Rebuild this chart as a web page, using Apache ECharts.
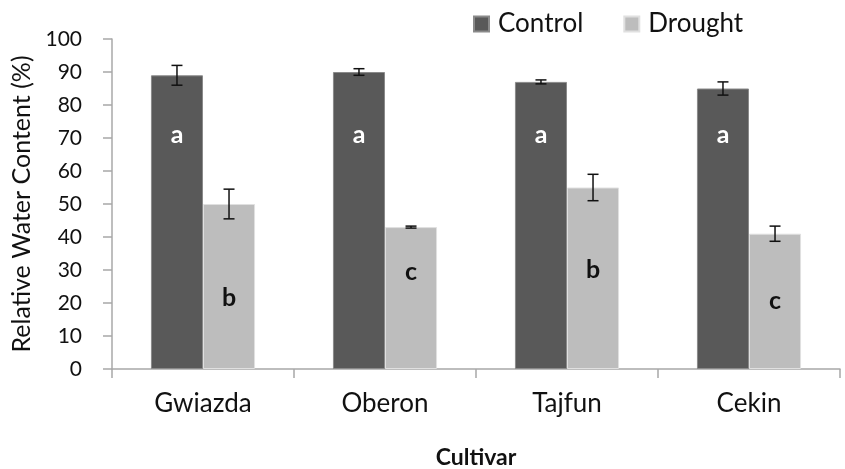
<!DOCTYPE html>
<html><head><meta charset="utf-8">
<script src="https://cdn.jsdelivr.net/npm/echarts@6/dist/echarts.min.js"></script>
<style>html,body{margin:0;padding:0;background:#fff}#c{width:845px;height:469px}</style>
</head><body><div id="c"></div>
<script>
const categories = ['Gwiazda', 'Oberon', 'Tajfun', 'Cekin'];
const control = [89, 90, 87, 85];
const controlErr = [3, 1, 0.6, 2];
const drought = [50, 43, 55, 41];
const droughtErr = [4.5, 0.3, 4, 2.3];
const controlLetters = ['a', 'a', 'a', 'a'];
const droughtLetters = ['b', 'c', 'b', 'c'];
const controlLetterY = [71, 71, 71, 71];
const droughtLetterY = [21.5, 29.5, 30, 20.5];
const yTicks = [0, 10, 20, 30, 40, 50, 60, 70, 80, 90, 100];

const FONT = 'Lato, "Open Sans", sans-serif';
const BAR_FRAC = 0.286;

function errSeries(name, vals, errs, side) {
  return {
    type: 'custom', name: name + 'Err', silent: true, z: 10,
    data: vals.map((v, i) => [i, v, errs[i]]),
    renderItem: function (params, api) {
      const i = api.value(0), v = api.value(1), e = api.value(2);
      const band = api.size([1, 0])[0];
      const cx = api.coord([i, v])[0] + side * band * BAR_FRAC / 2;
      const top = api.coord([i, v + e])[1];
      const bot = api.coord([i, v - e])[1];
      const cap = 5.5;
      const st = { stroke: '#111', lineWidth: 1.5 };
      return { type: 'group', children: [
        { type: 'line', shape: { x1: cx, y1: top, x2: cx, y2: bot }, style: st },
        { type: 'line', shape: { x1: cx - cap, y1: top, x2: cx + cap, y2: top }, style: st },
        { type: 'line', shape: { x1: cx - cap, y1: bot, x2: cx + cap, y2: bot }, style: st }
      ]};
    }
  };
}
function letterSeries(letters, ys, side, color) {
  return {
    type: 'custom', silent: true, z: 11,
    data: ys.map((y, i) => [i, y]),
    renderItem: function (params, api) {
      const i = api.value(0), y = api.value(1);
      const band = api.size([1, 0])[0];
      const p = api.coord([i, y]);
      return { type: 'text', style: {
        x: p[0] + side * band * BAR_FRAC / 2, y: p[1],
        text: letters[i], fill: color, font: 'bold 25px ' + FONT,
        textAlign: 'center', textVerticalAlign: 'middle'
      }};
    }
  };
}

const chart = echarts.init(document.getElementById('c'));
chart.setOption({
  animation: false,
  backgroundColor: '#fff',
  grid: { left: 112, top: 39, right: 5, bottom: 100, containLabel: false, outerBoundsMode: 'none' },
  legend: {
    data: ['Control', 'Drought'], top: 6, left: 468, itemWidth: 15, itemHeight: 15,
    itemGap: 40, icon: 'rect',
    textStyle: { fontFamily: FONT, fontSize: 26, color: '#111', padding: [0, 0, 0, 4] }
  },
  xAxis: {
    type: 'category', data: categories,
    name: 'Cultivar', nameLocation: 'middle', nameGap: 77,
    nameTextStyle: { fontFamily: FONT, fontSize: 23, fontWeight: 'bold', color: '#111' },
    axisLine: { lineStyle: { color: '#a8a8a8', width: 1.5 } },
    axisTick: { show: true, length: 9, lineStyle: { color: '#a8a8a8', width: 1.5 } },
    axisLabel: { fontFamily: FONT, fontSize: 26, color: '#111', margin: 22 }
  },
  yAxis: {
    type: 'value', min: 0, max: 100, interval: 10,
    name: 'Relative Water Content (%)', nameLocation: 'middle', nameGap: 70,
    nameTextStyle: { fontFamily: FONT, fontSize: 25, color: '#111' },
    axisLine: { show: true, lineStyle: { color: '#a8a8a8', width: 1.5 } },
    axisTick: { show: true, length: 9, lineStyle: { color: '#a8a8a8', width: 1.5 } },
    splitLine: { show: false },
    axisLabel: { fontFamily: FONT, fontSize: 21, color: '#111', margin: 30,
      formatter: v => yTicks.includes(v) ? String(v) : '' }
  },
  series: [
    { type: 'bar', name: 'Control', data: control, barWidth: (BAR_FRAC * 100) + '%', barGap: '0%',
      itemStyle: { color: '#595959', borderColor: '#8a8a8a', borderWidth: 1 } },
    { type: 'bar', name: 'Drought', data: drought, barWidth: (BAR_FRAC * 100) + '%', barGap: '0%',
      itemStyle: { color: '#bdbdbd', borderColor: '#e0e0e0', borderWidth: 1 } },
    errSeries('Control', control, controlErr, -1),
    errSeries('Drought', drought, droughtErr, 1),
    letterSeries(controlLetters, controlLetterY, -1, '#fff'),
    letterSeries(droughtLetters, droughtLetterY, 1, '#111')
  ]
});
</script></body></html>
